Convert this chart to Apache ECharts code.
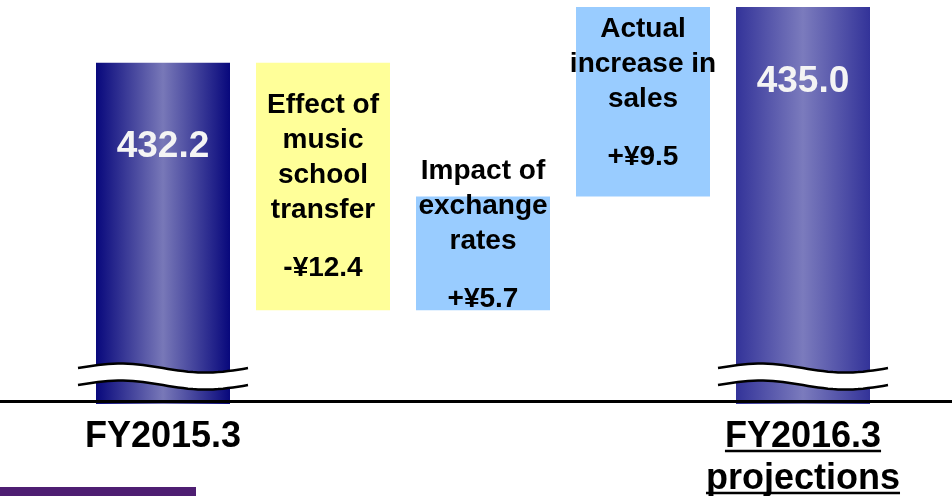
<!DOCTYPE html>
<html>
<head>
<meta charset="utf-8">
<script src="https://cdn.jsdelivr.net/npm/echarts@6/dist/echarts.min.js"></script>
<style>
  html, body { margin: 0; padding: 0; background: #fff; }
  #chart { width: 952px; height: 496px; }
</style>
</head>
<body>
<div id="chart"></div>
<script>
// data
var categories = ['FY2015.3', 'Effect of\nmusic\nschool\ntransfer', 'Impact of\nexchange\nrates', 'Actual\nincrease in\nsales', 'FY2016.3\nprojections'];
var totals = [432.2, '-', '-', '-', 435.0];
var changes = ['-', -12.4, 5.7, 9.5, '-'];
var changeText = ['', '-¥12.4', '+¥5.7', '+¥9.5', ''];

var FONT = '"Liberation Sans", Arial, sans-serif';

// waterfall: invisible base + visible step
var base = [], step = [];
var running = totals[0];
for (var i = 0; i < categories.length; i++) {
    if (changes[i] === '-') { base.push('-'); step.push('-'); continue; }
    var next = running + changes[i];
    base.push(+Math.min(running, next).toFixed(1));
    step.push(Math.abs(changes[i]));
    running = next;
}

var stepColors = ['', '#ffff99', '#99ccff', '#99ccff', ''];
var stepLabelTop = [0, 25, -43, 5, 0];
var totalLabelMid = [84, 0, 0, 0, 75];

var myChart = echarts.init(document.getElementById('chart'));

function gradient(edge, mid) {
    return new echarts.graphic.LinearGradient(0, 0, 1, 0, [
        {offset: 0, color: edge},
        {offset: 0.5, color: mid},
        {offset: 1, color: edge}
    ]);
}

var totalData = totals.map(function (v, i) {
    if (v === '-') return '-';
    return {
        value: v,
        itemStyle: {color: i === 0 ? gradient('#08087c', '#7878b8') : gradient('#333399', '#7b7bbd')},
        label: {
            show: true,
            position: ['50%', totalLabelMid[i]],
            align: 'center',
            verticalAlign: 'middle',
            formatter: v.toFixed(1),
            color: '#f4f4f4',
            fontSize: 37,
            fontWeight: 'bold',
            fontFamily: FONT
        }
    };
});

var stepData = step.map(function (v, i) {
    if (v === '-') return '-';
    return {
        value: v,
        itemStyle: {color: stepColors[i]},
        label: {
            show: true,
            position: ['50%', stepLabelTop[i]],
            align: 'center',
            verticalAlign: 'top',
            formatter: categories[i].split('\n').map(function (s) { return '{t|' + s + '}'; }).join('\n') +
                '\n{v|' + changeText[i] + '}',
            rich: {
                t: {fontSize: 28, fontWeight: 'bold', lineHeight: 35, color: '#000', fontFamily: FONT},
                v: {fontSize: 28, fontWeight: 'bold', lineHeight: 81, color: '#000', fontFamily: FONT}
            }
        }
    };
});

myChart.setOption({
    animation: false,
    grid: {left: 83, right: 69, top: 7, bottom: 92, outerBoundsMode: 'none'},
    xAxis: {
        type: 'category',
        data: categories,
        axisLine: {show: false},
        axisTick: {show: false},
        axisLabel: {
            interval: 0,
            margin: 12,
            formatter: function (v, idx) {
                return (idx === 0 || idx === categories.length - 1) ? v : '';
            },
            color: '#000',
            fontSize: 36,
            fontWeight: 'bold',
            lineHeight: 42,
            fontFamily: FONT
        }
    },
    yAxis: {
        type: 'value',
        min: 415.1,
        max: 435,
        show: false,
        splitLine: {show: false}
    },
    series: [
        {name: 'total', type: 'bar', stack: 'w', barWidth: 134, data: totalData},
        {name: 'base', type: 'bar', stack: 'w', barWidth: 134, itemStyle: {color: 'transparent'}, data: base},
        {name: 'change', type: 'bar', stack: 'w', barWidth: 134, data: stepData}
    ]
});

// decorations: baseline, axis breaks, underline
var bottomY = myChart.convertToPixel({gridIndex: 0}, [0, 415.1])[1];
var breakY = myChart.convertToPixel({gridIndex: 0}, [0, 416.5])[1];
var graphics = [];

graphics.push({
    type: 'line', z: 100,
    shape: {x1: 0, y1: bottomY - 2.5, x2: 952, y2: bottomY - 2.5},
    style: {stroke: '#000', lineWidth: 3}
});

function wave(cx, yc, off) {
    var pts = [];
    for (var dx = -85; dx <= 85; dx += 5) {
        var ph = 2 * Math.PI * (dx + 85) / 170;
        pts.push([cx + dx, yc - 8 - 4.5 * Math.sin(ph) + off]);
    }
    return pts;
}
[0, categories.length - 1].forEach(function (idx) {
    var cx = myChart.convertToPixel({gridIndex: 0}, [idx, 420])[0];
    var top = wave(cx, breakY, 0), bot = wave(cx, breakY, 17);
    graphics.push({type: 'polygon', z: 100, shape: {points: top.concat(bot.slice().reverse())}, style: {fill: '#fff'}});
    graphics.push({type: 'polyline', z: 101, shape: {points: top}, style: {stroke: '#000', lineWidth: 2.5, fill: null}});
    graphics.push({type: 'polyline', z: 101, shape: {points: bot}, style: {stroke: '#000', lineWidth: 2.5, fill: null}});
});

// underline for the projections label
var ctx = document.createElement('canvas').getContext('2d');
ctx.font = 'bold 36px ' + FONT;
var lastX = myChart.convertToPixel({gridIndex: 0}, [categories.length - 1, 420])[0];
categories[categories.length - 1].split('\n').forEach(function (s, k) {
    var w = ctx.measureText(s).width;
    var y = bottomY + 12 + 21 + 14 + k * 42;
    graphics.push({
        type: 'line', z: 100,
        shape: {x1: lastX - w / 2, y1: y, x2: lastX + w / 2, y2: y},
        style: {stroke: '#000', lineWidth: 2.5}
    });
});

// purple strip bottom left
graphics.push({type: 'rect', z: 100, shape: {x: 0, y: 487, width: 196, height: 9}, style: {fill: '#4e1e72'}});

myChart.setOption({graphic: graphics});
</script>
</body>
</html>
